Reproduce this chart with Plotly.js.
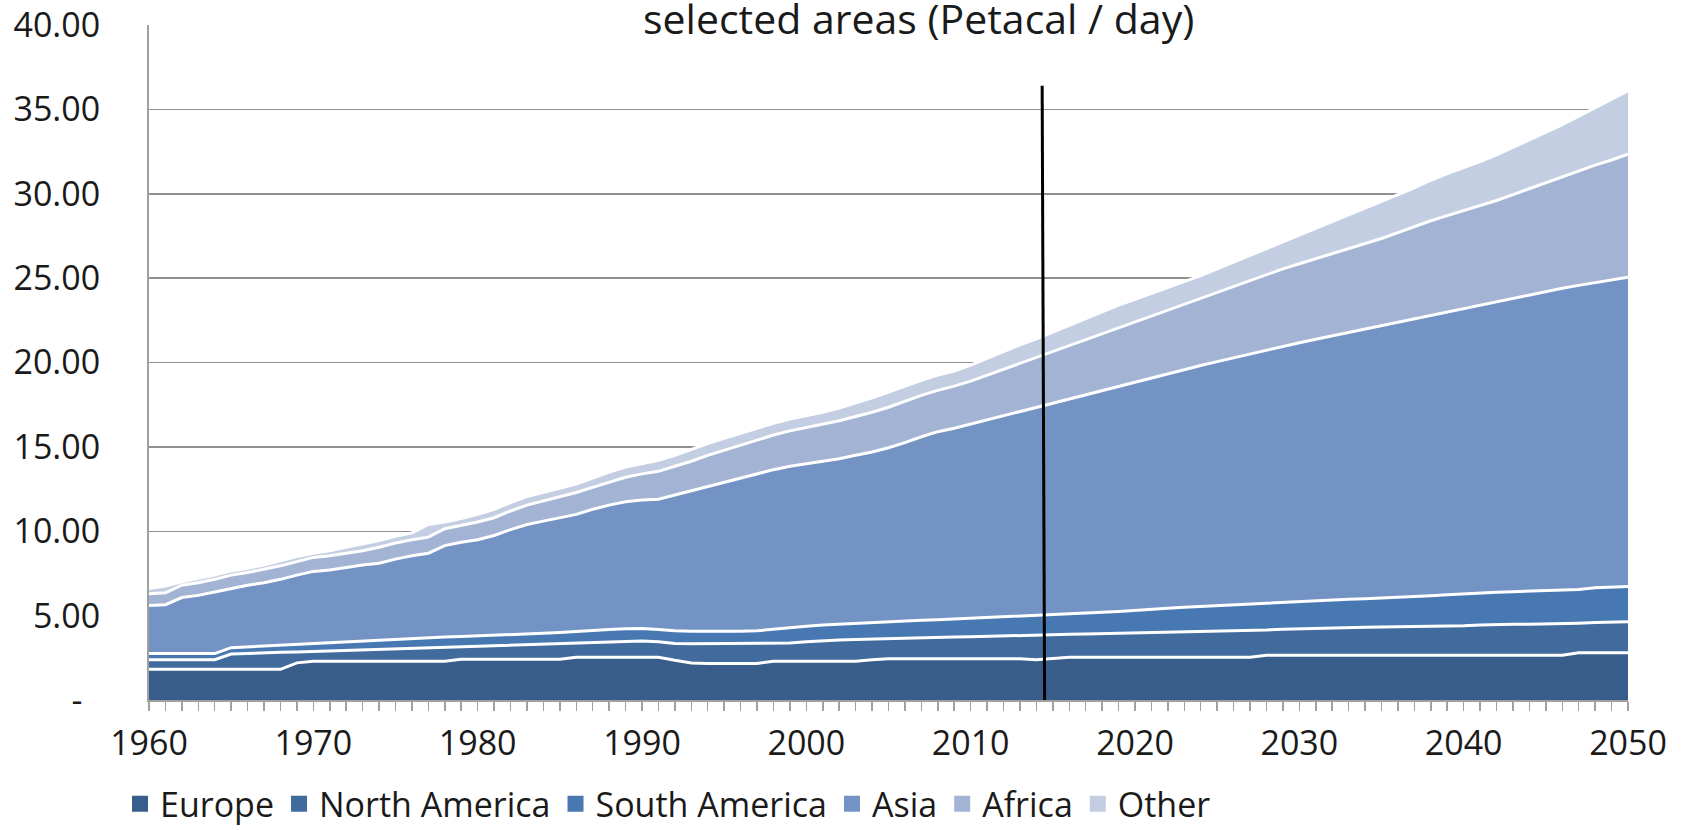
<!DOCTYPE html>
<html>
<head>
<meta charset="utf-8">
<script src="https://cdn.plot.ly/plotly-3.0.1.min.js"></script>
<style>
  html, body { margin: 0; padding: 0; background: #ffffff; }
  #chart { width: 1688px; height: 830px; }
</style>
</head>
<body>
<div id="chart"></div>
<script>
// ---------------- DATA ----------------
// Years 1960 .. 2050
const firstYear = 1960;
const lastYear = 2050;
const years = [];
for (let y = firstYear; y <= lastYear; y++) years.push(y);

const seriesNames = ["Europe", "North America", "South America", "Asia", "Africa", "Other"];

// Stacked (cumulative) top of each band, Petacal / day, one value per year
const europeTop = [
  1.82,1.82,1.82,1.82,1.82,1.82,1.82,1.82,1.82,2.20,
  2.29,2.29,2.29,2.29,2.29,2.29,2.29,2.29,2.29,2.41,
  2.41,2.41,2.41,2.41,2.41,2.41,2.53,2.53,2.53,2.53,
  2.53,2.53,2.35,2.20,2.16,2.16,2.16,2.16,2.30,2.30,
  2.30,2.30,2.30,2.30,2.38,2.44,2.44,2.44,2.44,2.44,
  2.44,2.44,2.44,2.44,2.38,2.45,2.54,2.54,2.54,2.54,
  2.54,2.54,2.54,2.54,2.54,2.54,2.54,2.54,2.65,2.65,
  2.65,2.65,2.65,2.65,2.65,2.65,2.65,2.65,2.65,2.65,
  2.65,2.65,2.65,2.65,2.65,2.65,2.65,2.80,2.80,2.80,
  2.80
];
const northAmericaTop = [
  2.39,2.39,2.39,2.39,2.39,2.72,2.77,2.80,2.83,2.85,
  2.88,2.90,2.93,2.97,3.00,3.03,3.05,3.07,3.10,3.15,
  3.18,3.20,3.22,3.25,3.28,3.31,3.35,3.40,3.44,3.47,
  3.49,3.45,3.35,3.34,3.34,3.34,3.34,3.34,3.34,3.38,
  3.45,3.52,3.56,3.59,3.62,3.64,3.66,3.69,3.71,3.73,
  3.75,3.78,3.80,3.83,3.85,3.87,3.89,3.91,3.93,3.95,
  3.97,4.00,4.04,4.07,4.08,4.10,4.10,4.12,4.15,4.20,
  4.23,4.25,4.27,4.29,4.31,4.33,4.34,4.35,4.36,4.38,
  4.40,4.44,4.48,4.49,4.49,4.50,4.51,4.55,4.59,4.62,
  4.64
];
const southAmericaTop = [
  2.75,2.75,2.75,2.75,2.75,3.10,3.15,3.20,3.26,3.32,
  3.38,3.43,3.48,3.52,3.56,3.62,3.66,3.70,3.74,3.77,
  3.80,3.83,3.87,3.91,3.95,4.00,4.07,4.13,4.18,4.22,
  4.24,4.18,4.10,4.08,4.07,4.07,4.07,4.10,4.20,4.30,
  4.37,4.45,4.50,4.55,4.60,4.66,4.70,4.73,4.76,4.80,
  4.84,4.88,4.93,4.98,5.02,5.07,5.10,5.15,5.20,5.25,
  5.30,5.36,5.43,5.50,5.55,5.60,5.65,5.70,5.75,5.80,
  5.85,5.90,5.95,5.97,6.00,6.04,6.07,6.12,6.18,6.24,
  6.30,6.34,6.38,6.42,6.45,6.47,6.50,6.55,6.65,6.70,
  6.72
];
const asiaTop = [
  5.60,5.65,6.07,6.20,6.40,6.60,6.80,6.95,7.15,7.40,
  7.62,7.70,7.85,8.00,8.10,8.35,8.55,8.70,9.15,9.35,
  9.50,9.75,10.10,10.40,10.60,10.80,11.00,11.30,11.55,11.75,
  11.85,11.90,12.15,12.40,12.65,12.90,13.15,13.40,13.65,13.85,
  14.00,14.15,14.30,14.50,14.70,14.95,15.25,15.60,15.90,16.10,
  16.35,16.60,16.85,17.10,17.35,17.60,17.85,18.10,18.35,18.60,
  18.85,19.10,19.35,19.60,19.82,20.05,20.28,20.50,20.72,20.95,
  21.17,21.38,21.58,21.78,21.98,22.20,22.42,22.62,22.82,23.02,
  23.22,23.42,23.62,23.82,24.02,24.22,24.40,24.57,24.74,24.90,
  25.05
];
const africaTop = [
  6.30,6.35,6.80,6.95,7.15,7.40,7.55,7.75,7.95,8.20,
  8.45,8.55,8.70,8.85,9.05,9.30,9.50,9.65,10.15,10.35,
  10.55,10.80,11.20,11.55,11.80,12.05,12.30,12.60,12.90,13.20,
  13.40,13.55,13.85,14.15,14.50,14.80,15.10,15.40,15.70,15.95,
  16.15,16.35,16.55,16.80,17.05,17.35,17.70,18.05,18.35,18.60,
  18.90,19.25,19.60,19.95,20.30,20.65,21.00,21.35,21.70,22.05,
  22.40,22.75,23.10,23.45,23.80,24.15,24.50,24.85,25.20,25.55,
  25.85,26.15,26.45,26.75,27.05,27.35,27.70,28.05,28.40,28.70,
  29.00,29.30,29.60,29.95,30.30,30.65,31.00,31.35,31.70,32.00,
  32.35
];
const otherTop = [
  6.60,6.75,7.00,7.20,7.40,7.65,7.80,8.00,8.25,8.50,
  8.70,8.85,9.05,9.25,9.45,9.70,9.90,10.40,10.55,10.75,
  11.00,11.30,11.70,12.05,12.30,12.55,12.80,13.15,13.50,13.80,
  14.00,14.20,14.50,14.85,15.20,15.50,15.80,16.10,16.40,16.65,
  16.85,17.05,17.30,17.60,17.90,18.25,18.60,18.95,19.25,19.50,
  19.85,20.25,20.65,21.05,21.40,21.80,22.20,22.60,23.00,23.40,
  23.75,24.10,24.45,24.80,25.15,25.55,25.95,26.35,26.75,27.15,
  27.55,27.95,28.35,28.75,29.15,29.55,29.95,30.35,30.80,31.20,
  31.55,31.90,32.30,32.75,33.20,33.65,34.10,34.60,35.10,35.60,
  36.10
];

// y-axis tick values and labels
const yTickVals = [0, 5, 10, 15, 20, 25, 30, 35, 40];
const yTickText = ["-\u00a0\u00a0", "5.00", "10.00", "15.00", "20.00", "25.00", "30.00", "35.00", "40.00"];

// vertical marker line (year and value extent)
const markerYears = [2014.35, 2014.5];
const markerValues = [36.4, -0.3];

const titleText = "selected areas (Petacal / day)";

// ---------------- STYLE ----------------
const colors = ["#385d8a", "#416a9d", "#4878b2", "#7393c4", "#a2b3d4", "#c4cee2"];
const FONT = "Open Sans, Noto Sans, sans-serif";
const tops = [europeTop, northAmericaTop, southAmericaTop, asiaTop, africaTop, otherTop];

const traces = [];
tops.forEach((arr, i) => {
  traces.push({
    type: "scatter",
    mode: "lines",
    x: years,
    y: arr,
    name: seriesNames[i],
    fill: i === 0 ? "tozeroy" : "tonexty",
    fillcolor: colors[i],
    line: { color: "#ffffff", width: 3 },
    showlegend: false,
    hoverinfo: "skip"
  });
});
// legend entries (square swatches)
seriesNames.forEach((n, i) => {
  traces.push({
    type: "scatter",
    mode: "markers",
    x: [null],
    y: [null],
    name: n,
    marker: { symbol: "square", size: 21, color: colors[i] },
    showlegend: true,
    hoverinfo: "skip"
  });
});

const layout = {
  width: 1688,
  height: 830,
  margin: { l: 149, r: 60, t: 25, b: 130 },
  paper_bgcolor: "#ffffff",
  plot_bgcolor: "#ffffff",
  font: { family: FONT, size: 34, color: "#1a1a1a" },
  xaxis: {
    range: [firstYear, lastYear],
    tickmode: "linear",
    tick0: firstYear,
    dtick: 10,
    ticks: "outside",
    ticklen: 9,
    tickwidth: 1.5,
    tickcolor: "#a0a0a0",
    showline: true,
    linecolor: "#a0a0a0",
    linewidth: 2,
    showgrid: false,
    zeroline: false,
    ticklabelstandoff: 3,
    tickfont: { family: FONT, size: 34, color: "#1a1a1a" },
    minor: { dtick: 1, ticks: "outside", ticklen: 9, tickwidth: 1.5, tickcolor: "#a0a0a0", showgrid: false }
  },
  yaxis: {
    range: [0, 40],
    tickmode: "array",
    tickvals: yTickVals,
    ticktext: yTickText,
    ticks: "",
    showgrid: true,
    gridcolor: "#8f8f8f",
    gridwidth: 1.5,
    showline: true,
    linecolor: "#a0a0a0",
    linewidth: 2,
    zeroline: false,
    ticklabelstandoff: 40,
    tickfont: { family: FONT, size: 34, color: "#1a1a1a" }
  },
  showlegend: true,
  legend: {
    orientation: "h",
    traceorder: "normal",
    xref: "container",
    x: 0.0711,
    xanchor: "left",
    yref: "container",
    y: 0.031,
    yanchor: "middle",
    font: { family: FONT, size: 34, color: "#1a1a1a" },
    bgcolor: "rgba(0,0,0,0)",
    itemclick: false,
    itemdoubleclick: false
  },
  annotations: [{
    text: titleText,
    xref: "paper", yref: "paper",
    x: 0.5206, y: 1.0104,
    xanchor: "center", yanchor: "middle",
    showarrow: false,
    font: { family: FONT, size: 41, color: "#1a1a1a" }
  }],
  shapes: [{
    type: "line",
    xref: "x", yref: "y",
    x0: markerYears[0], x1: markerYears[1],
    y0: markerValues[0], y1: markerValues[1],
    line: { color: "#000000", width: 3 },
    layer: "above"
  }]
};

Plotly.newPlot("chart", traces, layout, { staticPlot: true, displayModeBar: false });
</script>
</body>
</html>
